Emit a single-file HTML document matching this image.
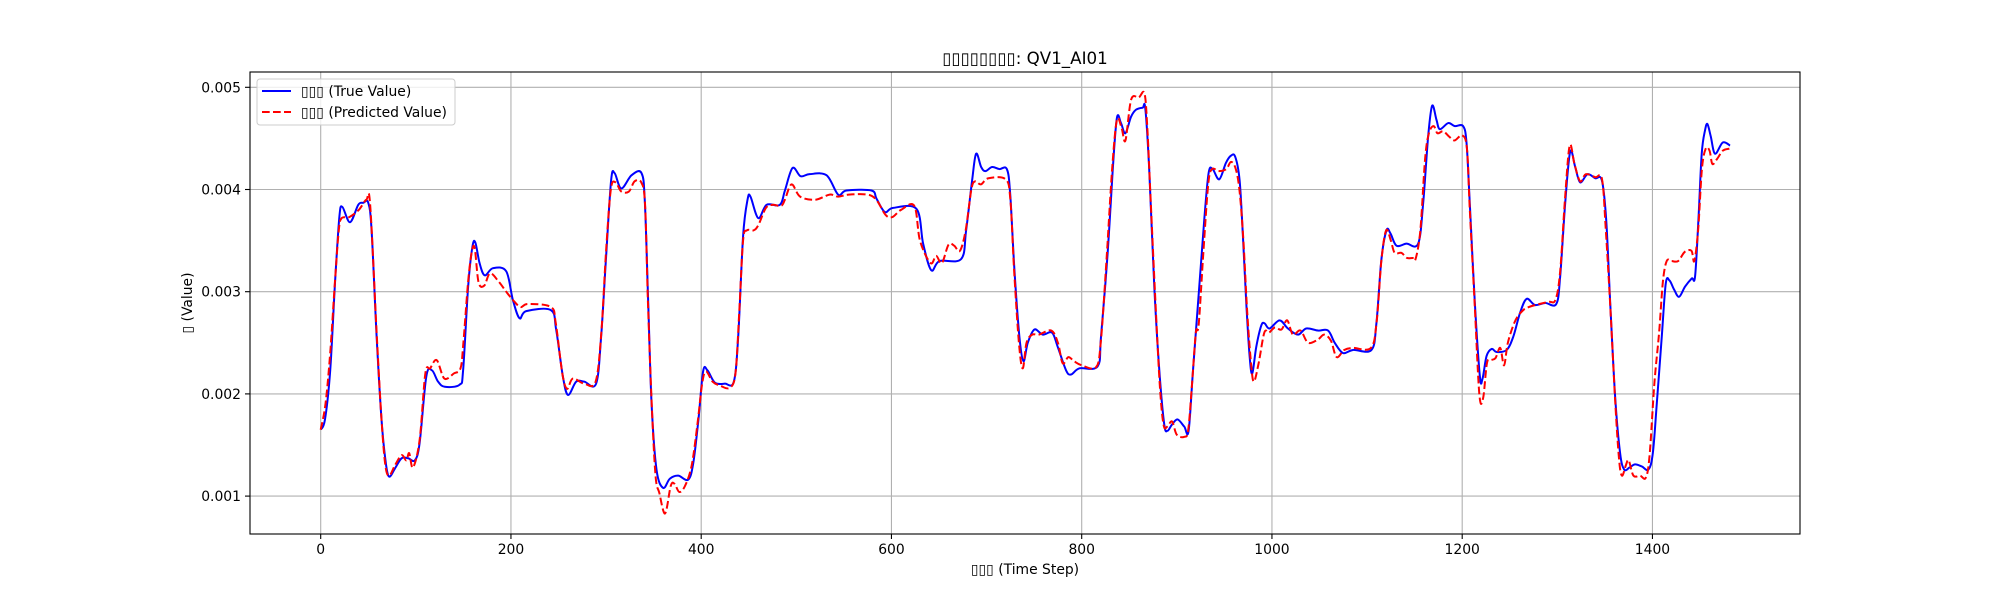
<!DOCTYPE html>
<html><head><meta charset="utf-8">
<style>
html,body{margin:0;padding:0;background:#fff;}
svg{display:block;font-family:"DejaVu Sans","Liberation Sans",sans-serif;}
</style></head>
<body>
<svg id="chart" width="2000" height="600" viewBox="0 0 2000 600" xmlns="http://www.w3.org/2000/svg">
<rect x="0" y="0" width="2000" height="600" fill="#fff"/>
<g id="grid"></g>
<g id="series"></g>
<rect x="250" y="72" width="1550" height="462" fill="none" stroke="#000" stroke-width="1.1"/>
<g id="ticks"></g>
<text x="1025" y="64" font-size="16.7" text-anchor="middle">▯▯▯▯▯▯▯▯: QV1_AI01</text>
<text x="1025" y="574" font-size="13.9" text-anchor="middle">▯▯▯ (Time Step)</text>
<text transform="translate(192,303) rotate(-90)" font-size="13.9" text-anchor="middle">▯ (Value)</text>
<g>
<rect x="257" y="79" width="198" height="46" rx="3" fill="#fff" fill-opacity="0.8" stroke="#ccc"/>
<g>
<line x1="262" y1="91" x2="291" y2="91" stroke="#0000ff" stroke-width="2"/>
<text x="301" y="96" font-size="13.9">▯▯▯ (True Value)</text>
</g>
<g>
<line x1="262" y1="112" x2="291" y2="112" stroke="#ff0000" stroke-width="2" stroke-dasharray="7.7,3.3"/>
<text x="301" y="117" font-size="13.9">▯▯▯ (Predicted Value)</text>
</g>
</g>
</svg>
<script>
const xTicks = [0, 200, 400, 600, 800, 1000, 1200, 1400];
const yTicks = [0.001, 0.002, 0.003, 0.004, 0.005];
const yTickLabels = ["0.001", "0.002", "0.003", "0.004", "0.005"];
const trueSteps = [0,4.5,10,15,19.6,22.7,30.8,39.5,44.8,50,53.5,58.8,64,68.5,72,78,85,92,99,104,111,117,123.4,130.4,146,149.7,155,159.5,162.6,167,172.4,181,195,202,209,216,242,247.5,254.6,260,268.6,277,289.5,294.8,300,305.3,309,316,326.8,337.3,340.8,344.3,347.8,353,360,367,375.8,386.3,391.6,397,402,406.6,414.4,425,434.3,438.9,444,448.7,451.8,460,468.7,482.7,488,496,504.4,514,531.7,544,552.7,579,584.3,593,601.8,626.3,633.3,641.8,650.5,673.3,678.5,684.8,689,694.3,698.8,705.8,713.5,721.3,724.8,729.3,734.5,738.8,743.3,750.3,759,768.8,774.8,783.6,788.8,797.6,816.8,820.3,827.3,832.6,837,841.3,845.9,851.8,857,864,866.9,871,876.3,881.6,886.8,890.3,894.9,900.8,907.8,912.4,917,923.6,928.8,933.4,937.6,944.6,951.6,956.8,961.4,966,969.5,973,976.5,979.3,983.5,988.8,992.3,997.5,1008,1016.8,1027.4,1036,1048.4,1059,1066,1074.7,1085.3,1104.6,1109.8,1115,1120.4,1124.6,1130.9,1141.4,1153.7,1159,1164.2,1168.4,1173,1176.5,1185.3,1192.3,1201,1204.6,1208,1213.3,1218.6,1221.4,1225.6,1231,1236.2,1246.7,1253.7,1260.7,1267.7,1276.5,1287.3,1298.9,1303,1308.3,1313.5,1318.8,1324,1331.8,1339.8,1346.8,1351.4,1355.6,1360.8,1366,1370.3,1375.9,1381.8,1388.8,1395.8,1400.4,1404.6,1409.8,1414,1417.9,1422.8,1428,1434.3,1441.3,1444.8,1448.3,1451.8,1455.3,1457.8,1461.3,1465.8,1473.9,1481.6];
const trueValues = [0.00165,0.00175,0.00223,0.00308,0.00373,0.00383,0.00368,0.00385,0.00387,0.00387,0.0036,0.00256,0.00174,0.00132,0.00119,0.00127,0.00137,0.00137,0.00135,0.00152,0.00217,0.00223,0.00212,0.00207,0.00209,0.00223,0.00305,0.00344,0.00348,0.00328,0.00316,0.00323,0.0032,0.00292,0.00274,0.00281,0.00282,0.00263,0.00217,0.00199,0.00212,0.00212,0.0021,0.00256,0.00334,0.00409,0.00416,0.00401,0.00414,0.00416,0.00387,0.00289,0.00191,0.00126,0.00108,0.00117,0.0012,0.00116,0.00132,0.00174,0.00222,0.00223,0.00211,0.0021,0.00212,0.00256,0.00354,0.0039,0.00393,0.00372,0.00385,0.00385,0.00399,0.00421,0.00413,0.00415,0.00414,0.00395,0.00399,0.00399,0.00391,0.00378,0.00382,0.00381,0.00347,0.00321,0.0033,0.00332,0.0036,0.00409,0.00435,0.00422,0.00418,0.00422,0.0042,0.0042,0.00396,0.00321,0.00256,0.00232,0.0025,0.00263,0.00258,0.0026,0.00246,0.00223,0.00219,0.00225,0.00227,0.00256,0.00338,0.00419,0.0047,0.00465,0.00455,0.00471,0.00478,0.0048,0.00479,0.00419,0.00305,0.00223,0.0017,0.00164,0.0017,0.00175,0.00168,0.00164,0.00223,0.00305,0.0037,0.00416,0.0042,0.0041,0.00426,0.00433,0.00432,0.00409,0.00354,0.00289,0.00237,0.0022,0.00246,0.00267,0.00269,0.00264,0.00272,0.00264,0.00258,0.00264,0.00262,0.00262,0.0025,0.0024,0.00243,0.00243,0.00269,0.00331,0.0036,0.00357,0.00345,0.00347,0.00347,0.00387,0.00452,0.00482,0.00468,0.00459,0.00465,0.00462,0.00462,0.00445,0.00386,0.00289,0.00217,0.00215,0.00237,0.00244,0.00241,0.00243,0.00256,0.00279,0.00293,0.00287,0.00289,0.00288,0.00315,0.00387,0.00437,0.00422,0.00407,0.00415,0.00411,0.00409,0.0037,0.00289,0.00197,0.00142,0.00126,0.00128,0.00131,0.00129,0.00126,0.00142,0.00191,0.00256,0.00308,0.00311,0.00302,0.00295,0.00305,0.00313,0.00315,0.0037,0.00435,0.00458,0.00464,0.00452,0.00435,0.00446,0.00443];
const predSteps = [0,5,10,15,19,22,30,40,48,52,58.8,64,68,72,78,85,90,93,97,104,110,115,122,130,140,147,150,155,159,162,166,172,178,187,195,202,210,218,242,247,254,259,265,277,289,295,300,305,310,316,324,330,337,341,344,348,352,356,362,368,372,377,383,390,396,401,405,412,420,430,436,440,444,448,455,460,468,475,484,488,495,504,520,535,544,555,575,584,594,601,610,624,630,641,647,653,660,666,672,678,684,688,694,702,720,725,729,734,738,742,748,755,768,775,780,786,792,800,815,820,826,832,837,842,846,852,860,866,869,872,877,882,886,890,895,900,908,912,916,920,923,928,933,937,944,952,957,962,966,970,974,978,981,986,992,997,1003,1010,1016,1022,1030,1038,1048,1055,1062,1068,1076,1085,1104,1110,1115,1120,1125,1129,1136,1142,1148,1151,1156,1161,1165,1170,1174,1180,1186,1192,1200,1205,1208,1213,1218,1222,1226,1230,1235,1240,1244,1248,1255,1262,1270,1290,1298,1303,1308,1313,1318,1324,1330,1340,1347,1351,1356,1361,1365,1368,1372,1375,1380,1387,1393,1397,1402,1407,1411,1415,1420,1427,1434,1441,1444,1448,1452,1456,1460,1463,1468,1474,1481];
const predValues = [0.00165,0.0019,0.0024,0.0031,0.0036,0.00372,0.00373,0.0038,0.0039,0.00385,0.0026,0.00174,0.0013,0.0012,0.0013,0.0014,0.00135,0.00142,0.00128,0.00155,0.0022,0.00225,0.00233,0.00215,0.0022,0.00225,0.0025,0.0031,0.0034,0.00342,0.00309,0.00306,0.00318,0.0031,0.003,0.00292,0.00285,0.00288,0.00285,0.0027,0.0022,0.00205,0.00215,0.0021,0.00212,0.0026,0.0034,0.004,0.00407,0.00398,0.00398,0.00408,0.00407,0.00385,0.0029,0.0019,0.0012,0.00103,0.00083,0.0011,0.00112,0.00104,0.0011,0.0013,0.0017,0.0021,0.00222,0.00212,0.00208,0.00206,0.0022,0.0028,0.0035,0.0036,0.0036,0.00365,0.00382,0.00385,0.00384,0.0039,0.00405,0.00393,0.0039,0.00395,0.00393,0.00395,0.00395,0.0039,0.00375,0.00373,0.0038,0.00384,0.0035,0.00328,0.00335,0.00328,0.00346,0.00345,0.0034,0.0036,0.004,0.00408,0.00405,0.00411,0.0041,0.0039,0.0032,0.0025,0.00225,0.0025,0.00258,0.00258,0.00262,0.0025,0.0023,0.00236,0.00232,0.00228,0.00226,0.0025,0.0033,0.0042,0.00468,0.0046,0.00448,0.00488,0.0049,0.00494,0.0046,0.004,0.003,0.0021,0.0017,0.00168,0.00173,0.0016,0.00158,0.00165,0.0021,0.0026,0.00268,0.0034,0.00405,0.0042,0.00418,0.0042,0.00427,0.0042,0.00398,0.0035,0.0028,0.0023,0.00212,0.0023,0.0026,0.0026,0.00265,0.00263,0.00272,0.00258,0.00262,0.0025,0.00253,0.00258,0.00252,0.00236,0.00243,0.00245,0.00245,0.0027,0.0033,0.0036,0.0035,0.00338,0.00338,0.00333,0.00333,0.00332,0.0036,0.0043,0.00455,0.00462,0.00455,0.00457,0.00452,0.00448,0.00453,0.0044,0.0038,0.0029,0.002,0.00196,0.0023,0.00233,0.00235,0.00245,0.00228,0.0025,0.0027,0.0028,0.00285,0.0029,0.00292,0.0032,0.0039,0.00443,0.00425,0.00408,0.00415,0.00412,0.0041,0.0036,0.0028,0.0019,0.00135,0.0012,0.0013,0.00135,0.0012,0.0012,0.00118,0.0014,0.0021,0.0026,0.0031,0.0033,0.0033,0.0033,0.00339,0.0034,0.0033,0.0036,0.0042,0.0044,0.00438,0.00425,0.0043,0.00438,0.0044];

const NS = "http://www.w3.org/2000/svg";
function xScale(s){ return 320.7 + s * 0.95125; }
function yScale(v){ return 87.3 + (0.005 - v) * 102200; }
function mk(tag, attrs, parent){
  const e = document.createElementNS(NS, tag);
  for (const k in attrs) e.setAttribute(k, attrs[k]);
  parent.appendChild(e);
  return e;
}
const grid = document.getElementById('grid');
const ticks = document.getElementById('ticks');
const series = document.getElementById('series');

xTicks.forEach(function(t){
  const x = xScale(t);
  const gl = mk('line', {x1:x, x2:x, y1:72, y2:534, stroke:'#b0b0b0', 'stroke-width':1.1}, grid);
  
  
  const tk = mk('line', {x1:x, x2:x, y1:534, y2:539, stroke:'#000', 'stroke-width':1.1}, ticks);
  
  
  const lb = mk('text', {x:x, y:554, 'font-size':13.9, 'text-anchor':'middle'}, ticks);
  lb.textContent = String(t);
  
  
});
yTicks.forEach(function(t, i){
  const y = yScale(t);
  const gl = mk('line', {x1:250, x2:1800, y1:y, y2:y, stroke:'#b0b0b0', 'stroke-width':1.1}, grid);
  
  
  const tk = mk('line', {x1:245, x2:250, y1:y, y2:y, stroke:'#000', 'stroke-width':1.1}, ticks);
  
  
  const lb = mk('text', {x:241, y:y + 5, 'font-size':13.9, 'text-anchor':'end'}, ticks);
  lb.textContent = yTickLabels[i];
  
  
});
// smooth path (Catmull-Rom rendered as cubic Beziers) through the data points
function smoothPath(steps, vals){
  const p = steps.map(function(s, i){ return [xScale(s), yScale(vals[i])]; });
  let d = 'M' + p[0][0].toFixed(2) + ',' + p[0][1].toFixed(2);
  const t = 0.5 / 3;
  for (let i = 0; i < p.length - 1; i++){
    const p0 = p[Math.max(0, i - 1)], p1 = p[i], p2 = p[i + 1], p3 = p[Math.min(p.length - 1, i + 2)];
    const c1x = p1[0] + (p2[0] - p0[0]) * t, c1y = p1[1] + (p2[1] - p0[1]) * t;
    const c2x = p2[0] - (p3[0] - p1[0]) * t, c2y = p2[1] - (p3[1] - p1[1]) * t;
    d += ' C' + c1x.toFixed(2) + ',' + c1y.toFixed(2) + ' ' + c2x.toFixed(2) + ',' + c2y.toFixed(2) + ' ' + p2[0].toFixed(2) + ',' + p2[1].toFixed(2);
  }
  return d;
}
const tl = mk('path', {d:smoothPath(trueSteps, trueValues), fill:'none', stroke:'#0000ff', 'stroke-width':2, 'stroke-linejoin':'round'}, series);


const pl = mk('path', {d:smoothPath(predSteps, predValues), fill:'none', stroke:'#ff0000', 'stroke-width':2, 'stroke-dasharray':'7.7,3.3', 'stroke-linejoin':'round'}, series);


</script>
</body></html>
